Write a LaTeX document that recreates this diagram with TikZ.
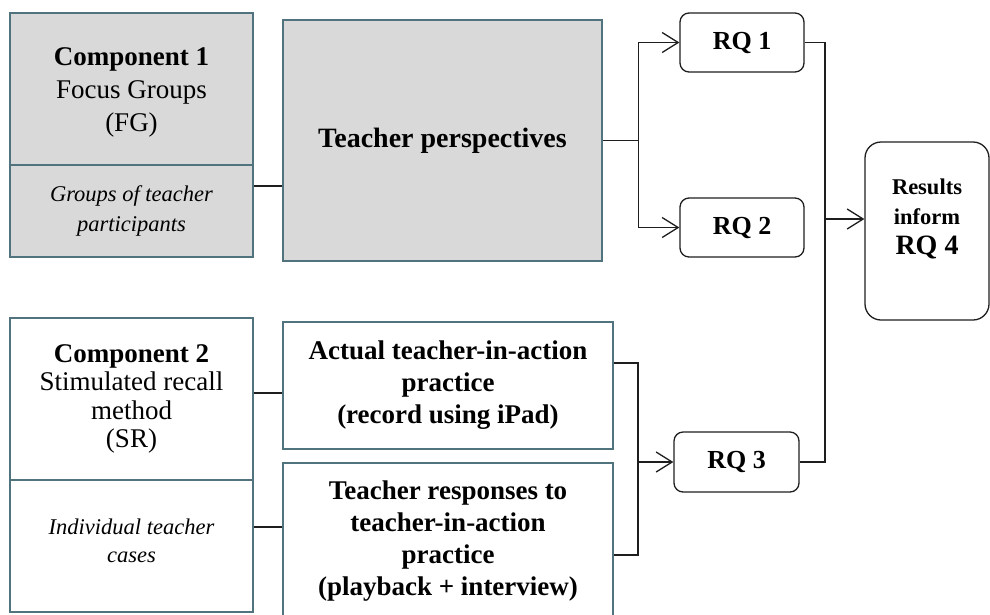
\documentclass[tikz,border=0pt]{standalone}
\usepackage{fontspec}
\setmainfont{Liberation Serif}
\usetikzlibrary{arrows.meta}
\definecolor{edgec}{RGB}{80,115,125}
\definecolor{greyfill}{RGB}{217,217,217}
\definecolor{linec}{RGB}{30,30,30}
\begin{document}
\begin{tikzpicture}[x=1pt,y=-1pt,
  compbox/.style={draw=edgec, line width=1.6pt, minimum width=243pt, inner sep=0pt, align=center},
  greybox/.style={compbox, fill=greyfill},
  rqbox/.style={draw=linec, line width=1.3pt, rounded corners=9pt, minimum width=124pt, minimum height=59pt, inner sep=0pt, font=\fontsize{26}{30}\selectfont\bfseries},
  conn/.style={draw=linec, line width=1.3pt},
  arr/.style={conn, -{Straight Barb[length=16pt,width=20pt,line width=1.3pt]}},
  maintext/.style={font=\fontsize{27}{33}\selectfont},
  ittext/.style={font=\fontsize{22.5}{30}\selectfont\itshape}
]
\useasboundingbox (0,0) rectangle (990,614);

% Component 1
\node[greybox, minimum height=152pt] (c1t) at (131.5,89) {};
\node[align=center, inner sep=0pt, maintext] (c1tt) at (131.5,92)
  {{\bfseries Component 1}\\Focus Groups\\(FG)};
\node[greybox, minimum height=92pt, ittext] (c1b) at (131.5,211)
  {Groups of teacher\\participants};

% Teacher perspectives
\node[greybox, minimum width=319pt, minimum height=241pt, font=\fontsize{28}{32}\selectfont\bfseries] (tp) at (442.5,140.5)
  {Teacher perspectives};

% Component 2
\node[compbox, fill=white, minimum height=162pt, font=\fontsize{27}{28.5}\selectfont] (c2t) at (131.5,399)
  {{\bfseries Component 2}\\Stimulated recall\\method\\(SR)};
\node[compbox, fill=white, minimum height=132pt] (c2b) at (131.5,546) {};
\node[align=center, inner sep=0pt, font=\fontsize{22.5}{28}\selectfont\itshape] (c2bt) at (131.5,541)
  {Individual teacher\\cases};

% Practice boxes
\node[compbox, fill=white, minimum width=330pt, minimum height=127pt, font=\fontsize{27}{32}\selectfont\bfseries] (act) at (448,385.5)
  {Actual teacher-in-action\\practice\\(record using iPad)};
\node[compbox, fill=white, minimum width=330pt, minimum height=156pt, font=\fontsize{27}{32.3}\selectfont\bfseries] (resp) at (448,541)
  {Teacher responses to\\teacher-in-action\\practice\\(playback + interview)};

% RQ boxes
\node[rqbox] (rq1) at (742,42.5) {RQ 1};
\node[rqbox] (rq2) at (742,227.5) {RQ 2};
\node[rqbox, minimum width=125pt, minimum height=60pt] (rq3) at (736.5,462) {RQ 3};
\node[rqbox, rounded corners=16pt, minimum height=178pt] (rq4) at (927,231) {};
\node[align=center, inner sep=0pt, font=\fontsize{22.5}{30}\selectfont\bfseries] (rq4t) at (927,219)
  {Results\\inform\\{\fontsize{28}{30}\selectfont RQ 4}};

% Connectors
\draw[conn] ([yshift=25pt]c1b.east) -- ([yshift=25pt]c1b.east -| tp.west);
\draw[conn] (tp.east) -- ++(36,0) coordinate (b1);
\draw[arr] (b1) |- (rq1.west);
\draw[arr] (b1) |- (rq2.west);

\coordinate (v) at (825,0);
\draw[conn] (rq1.east) -| (v |- rq3.east) -- (rq3.east);
\draw[arr] (v |- rq4t.west) -- (rq4.west |- rq4t.west);

\draw[conn] ([yshift=6pt]c2t.east) -- ([yshift=6pt]c2t.east -| act.west);
\draw[conn] ([yshift=19pt]c2b.east) -- ([yshift=19pt]c2b.east -| resp.west);

\coordinate (b2) at (638,0);
\path ([yshift=22.5pt]act.east) coordinate (ae) ([yshift=-14pt]resp.east) coordinate (re);
\draw[conn] (ae) -- (ae -| b2) -- (re -| b2) -- (re);
\draw[arr] (b2 |- rq3.west) -- (rq3.west);
\end{tikzpicture}
\end{document}
